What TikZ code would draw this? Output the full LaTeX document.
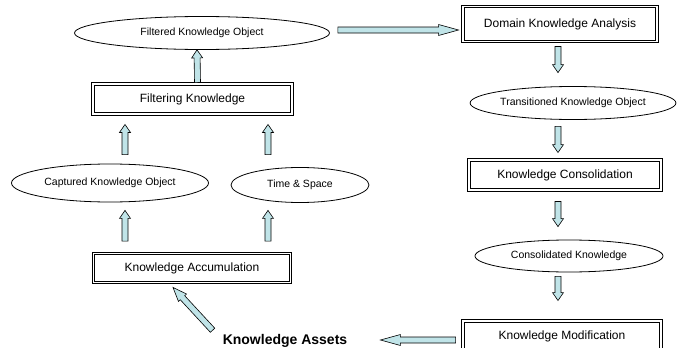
\documentclass[tikz,border=0pt]{standalone}
\usepackage{fontspec}
\setmainfont{Liberation Sans}
\usetikzlibrary{calc,shapes.geometric}
\definecolor{arrowfill}{RGB}{192,228,232}

% block arrow from #2 to #3, head length #1
\newcommand{\blockarrow}[3][8pt]{%
	\coordinate (head) at ($(#3)!#1!(#2)$);
	\draw[blockarrow] ($(#2)!3pt!90:(#3)$) -- ($(head)!3pt!90:(#3)$) -- ($(head)!5.5pt!90:(#3)$) -- (#3)
		-- ($(head)!5.5pt!-90:(#3)$) -- ($(head)!3pt!-90:(#3)$) -- ($(#2)!3pt!-90:(#3)$) -- cycle;}

\begin{document}
\begin{tikzpicture}[x=1pt,y=-1pt,
	box/.style={draw,double,double distance=1.8pt,line width=0.9pt,fill=white,inner sep=0pt,
		font=\fontsize{12}{14}\selectfont},
	oval/.style={draw,ellipse,line width=0.8pt,inner sep=0pt,font=\fontsize{10.5}{12}\selectfont},
	blockarrow/.style={draw,fill=arrowfill,line width=0.6pt,line join=miter}]
	\useasboundingbox (0,0) rectangle (678,348);

	\node[oval,minimum width=255pt,minimum height=33pt] (fko) at (202,33) {Filtered Knowledge Object};
	\node[box,minimum width=199pt,minimum height=30pt] (fk) at (192.5,99) {Filtering Knowledge};
	\node[oval,minimum width=197pt,minimum height=38pt] (cko) at (110,183) {Captured Knowledge Object};
	\node[oval,minimum width=138pt,minimum height=35pt] (ts) at (300,185) {Time \& Space};
	\node[box,minimum width=197pt,minimum height=29pt] (acc) at (192,268) {Knowledge Accumulation};
	\node[font=\fontsize{14}{16}\selectfont\bfseries,inner sep=0pt] (assets) at (285,341) {Knowledge Assets};

	\node[box,minimum width=194pt,minimum height=35pt] (dka) at (560,24) {Domain Knowledge Analysis};
	\node[oval,minimum width=176pt,minimum height=33pt] (tko) at (573,103) {Transitioned Knowledge Object};
	\node[box,minimum width=192pt,minimum height=30pt] (kc) at (565,175) {Knowledge Consolidation};
	\node[oval,minimum width=188pt,minimum height=32pt] (ck) at (569,256) {Consolidated Knowledge};
	\node[box,minimum width=198pt,minimum height=30pt] (km) at (562,336) {Knowledge Modification};

	% left column
	\blockarrow{[shift={(5,-1)}]fk.north}{[shift={(-5,0)}]fko.south}
	\blockarrow{[shift={(15,-9)}]cko.north}{[shift={(-67.5,10)}]fk.south}
	\blockarrow{[shift={(-32,-12.5)}]ts.north}{[shift={(75.5,10)}]fk.south}
	\blockarrow{[shift={(-67,-12)}]acc.north}{[shift={(15,8)}]cko.south}
	\blockarrow{[shift={(76,-12)}]acc.north}{[shift={(-32,7.5)}]ts.south}

	% across the top
	\blockarrow[20pt]{[shift={(8,-3)}]fko.east}{[shift={(-4,6)}]dka.west}

	% right column
	\blockarrow{[shift={(-2,4.5)}]dka.south}{[shift={(-15,-13.5)}]tko.north}
	\blockarrow{[shift={(-15,6.5)}]tko.south}{[shift={(-7,-7)}]kc.north}
	\blockarrow{[shift={(-7,11)}]kc.south}{[shift={(-11,-13)}]ck.north}
	\blockarrow{[shift={(-11,4)}]ck.south}{[shift={(-4,-20)}]km.north}

	% back to the start
	\blockarrow[20pt]{[shift={(-7,4)}]km.west}{[shift={(33,-1)}]assets.east}
	\blockarrow[14pt]{[shift={(-10,-4)}]assets.north west}{[shift={(-19,4.5)}]acc.south}
\end{tikzpicture}
\end{document}
